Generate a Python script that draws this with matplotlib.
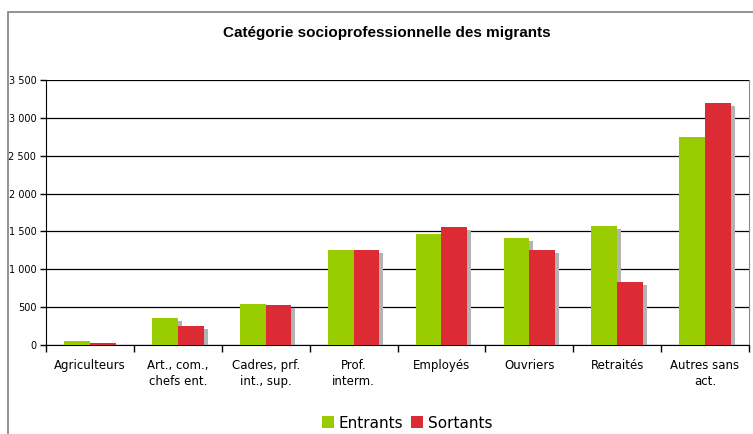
import numpy as np
import matplotlib.pyplot as plt
from matplotlib.patches import Rectangle
from matplotlib.ticker import FuncFormatter
import matplotlib.transforms as mtransforms

# --- Data ---
categories = ["Agriculteurs", "Art., com.,\nchefs ent.", "Cadres, prf.\nint., sup.",
              "Prof.\ninterm.", "Employés", "Ouvriers", "Retraités", "Autres sans\nact."]
entrants = [55, 355, 540, 1250, 1470, 1410, 1570, 2750]
sortants = [25, 250, 528, 1250, 1555, 1250, 830, 3190]

green = "#99cc00"
red = "#dd2b35"
shadow = "#b3b3b3"

fig = plt.figure(figsize=(7.53, 4.34), dpi=100)
ax = fig.add_axes([46 / 753, 1 - 345 / 434, 703 / 753, 265 / 434])

x = np.arange(len(categories))
w = 0.293

# shadows, offset a few pixels right and down
shift = mtransforms.offset_copy(ax.transData, fig=fig, x=4, y=-3, units="dots")
ax.bar(x - w / 2, entrants, w, color=shadow, transform=shift, zorder=2)
ax.bar(x + w / 2, sortants, w, color=shadow, transform=shift, zorder=2)

ax.bar(x - w / 2, entrants, w, color=green, zorder=3, label="Entrants")
ax.bar(x + w / 2, sortants, w, color=red, zorder=3, label="Sortants")

ax.set_xlim(-0.5, len(categories) - 0.5)
ax.set_ylim(0, 3500)
ax.set_yticks(np.arange(0, 3501, 500))
ax.yaxis.set_major_formatter(FuncFormatter(lambda v, p: f"{int(v):,}".replace(",", " ")))
ax.grid(axis="y", color="black", linewidth=0.9, zorder=1)
ax.set_axisbelow(True)

ax.set_xticks(x)
ax.set_xticklabels(categories, fontsize=8.5, family="DejaVu Sans", linespacing=1.3)
ax.set_xticks(np.arange(-0.5, len(categories), 1), minor=True)
ax.tick_params(axis="x", which="major", length=0, pad=10)
ax.tick_params(axis="x", which="minor", length=5, width=1, color="black")
ax.tick_params(axis="y", length=4, width=1, pad=3)
for lab in ax.get_yticklabels():
    lab.set_fontfamily("DejaVu Sans")
    lab.set_fontsize(7)

ax.spines["left"].set_color("black")
ax.spines["bottom"].set_color("black")
ax.spines["right"].set_color("#888888")
ax.spines["top"].set_visible(False)

# outer chart frame
fig.patches.append(Rectangle((7.5 / 753, -0.1), 1.2, 1 - 12 / 434 + 0.1,
                             transform=fig.transFigure, fill=False,
                             edgecolor="#808080", linewidth=1.2))

fig.text(387 / 753, 1 - 33 / 434, "Catégorie socioprofessionnelle des migrants",
         ha="center", va="center", fontsize=11, fontweight="bold",
         family="Liberation Sans")

fig.legend(loc="center", bbox_to_anchor=(407 / 753, 1 - 423 / 434), ncol=2,
           frameon=False, fontsize=11, handlelength=0.8, handleheight=0.8,
           handletextpad=0.3, columnspacing=0.5, borderaxespad=0)

fig.savefig("out.png", dpi=100)
